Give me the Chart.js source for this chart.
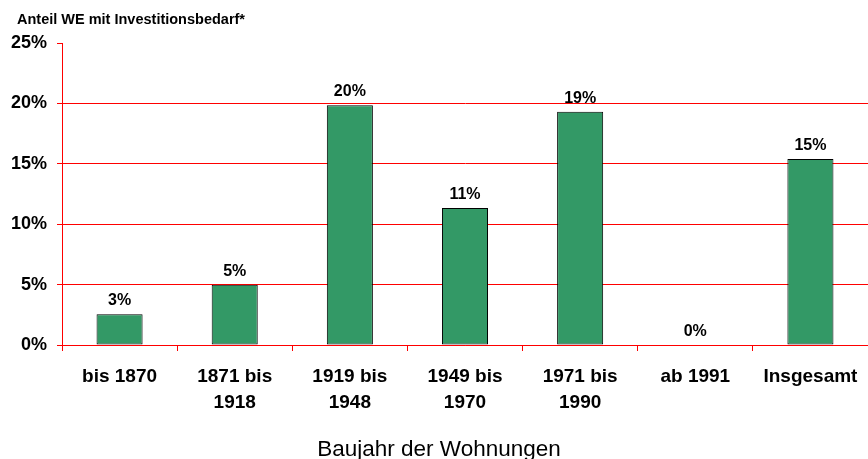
<!DOCTYPE html>
<html>
<head>
<meta charset="utf-8">
<script src="https://cdn.jsdelivr.net/npm/chart.js@4.4.0/dist/chart.umd.min.js"></script>
<style>
  html, body { margin: 0; padding: 0; background: #fff; }
  #wrap { width: 868px; height: 459px; }
</style>
</head>
<body>
<div id="wrap"><canvas id="myChart" width="868" height="459"></canvas></div>
<script>
// chart data
var categories = ['bis 1870', ['1871 bis', '1918'], ['1919 bis', '1948'], ['1949 bis', '1970'], ['1971 bis', '1990'], 'ab 1991', 'Insgesamt'];
var shares = [2.55, 4.98, 19.85, 11.35, 19.3, 0, 15.4];   // Anteil in %
var yTicks = [0, 5, 10, 15, 20, 25];

var FONT = '"Liberation Sans", Arial, sans-serif';
var RED = '#ff0000';

// bold value labels above bars
var valueLabels = {
    id: 'valueLabels',
    afterDatasetsDraw: function(chart) {
        var ctx = chart.ctx;
        var meta = chart.getDatasetMeta(0);
        ctx.save();
        ctx.font = 'bold 16px ' + FONT;
        ctx.fillStyle = '#000';
        ctx.textAlign = 'center';
        ctx.textBaseline = 'alphabetic';
        meta.data.forEach(function(bar, i) {
            ctx.fillText(Math.round(shares[i]) + '%', bar.x, bar.y - 9);
        });
        ctx.restore();
    }
};

// axis titles
var titles = {
    id: 'titles',
    afterDraw: function(chart) {
        var ctx = chart.ctx;
        ctx.save();
        ctx.fillStyle = '#000';
        ctx.textBaseline = 'alphabetic';
        ctx.font = 'bold 14.5px ' + FONT;
        ctx.textAlign = 'left';
        ctx.fillText('Anteil WE mit Investitionsbedarf*', 17, 24);
        ctx.font = '22.5px ' + FONT;
        ctx.textAlign = 'center';
        ctx.fillText('Baujahr der Wohnungen', 439, 456);
        ctx.restore();
    }
};

var ctx = document.getElementById('myChart').getContext('2d');
var myChart = new Chart(ctx, {
    type: 'bar',
    data: {
        labels: categories,
        datasets: [{
            data: shares,
            backgroundColor: '#339966',
            borderColor: '#000000',
            borderWidth: 1,
            borderSkipped: false,
            categoryPercentage: 1.0,
            barPercentage: 0.4
        }]
    },
    options: {
        responsive: false,
        animation: false,
        layout: { padding: { top: 43, left: 0, right: 0, bottom: 0 } },
        plugins: {
            legend: { display: false },
            tooltip: { enabled: false },
            title: { display: false }
        },
        scales: {
            x: {
                grid: {
                    drawOnChartArea: false,
                    drawTicks: true,
                    tickLength: 6,
                    color: RED,
                    tickColor: RED,
                    offset: true
                },
                border: { color: RED, width: 1 },
                ticks: {
                    color: '#000',
                    font: { family: FONT, size: 19, weight: 'bold', lineHeight: 1.37 },
                    padding: 13,
                    maxRotation: 0,
                    autoSkip: false
                },
                afterFit: function(scale) {
                    scale.height = 114;
                    scale.paddingLeft = 0;
                    scale.paddingRight = 0;   // plot runs to the right edge
                }
            },
            y: {
                min: 0,
                max: 25,
                afterBuildTicks: function(scale) {
                    scale.ticks = yTicks.map(function(v) { return { value: v }; });
                },
                grid: {
                    // no grid line at the top value, tick mark only
                    color: function(c) { return c.tick && c.tick.value === 25 ? 'rgba(0,0,0,0)' : RED; },
                    tickColor: RED,
                    tickLength: 5
                },
                border: { color: RED, width: 1 },
                ticks: {
                    color: '#000',
                    font: { family: FONT, size: 18, weight: 'bold' },
                    padding: 10,
                    callback: function(v) { return v + '%'; }
                },
                afterFit: function(scale) { scale.width = 62; }
            }
        }
    },
    plugins: [valueLabels, titles]
});
</script>
</body>
</html>
